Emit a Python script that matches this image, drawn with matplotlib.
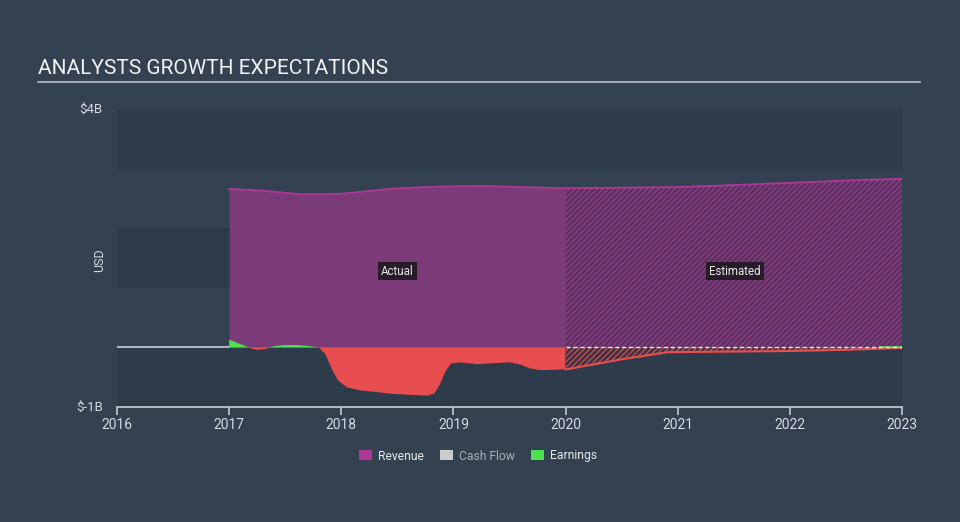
import matplotlib
matplotlib.use("Agg")
import matplotlib.pyplot as plt
from matplotlib.patches import Patch
import numpy as np

plt.rcParams['font.family'] = ['Roboto', 'DejaVu Sans']
plt.rcParams['hatch.linewidth'] = 0.9

# ---- data (billions USD) ----
rev_actual_x = [2017.0, 2017.3, 2017.63, 2017.8, 2018.02, 2018.23, 2018.5, 2018.91, 2019.24, 2019.6, 2020.0]
rev_actual_y = [2.66, 2.63, 2.57, 2.57, 2.58, 2.62, 2.67, 2.70, 2.71, 2.69, 2.67]
rev_est_x = [2020.0, 2020.5, 2021.0, 2021.32, 2021.7, 2022.0, 2022.5, 2023.0]
rev_est_y = [2.67, 2.68, 2.69, 2.71, 2.74, 2.76, 2.80, 2.83]

earn_actual_x = [2017.0, 2017.12, 2017.2, 2017.25, 2017.32, 2017.4, 2017.5, 2017.6, 2017.72, 2017.8,
                 2017.86, 2017.92, 2017.97, 2018.05, 2018.17, 2018.46, 2018.77, 2018.83,
                 2018.88, 2018.93, 2018.98, 2019.05, 2019.21, 2019.5, 2019.6, 2019.68, 2019.77, 2020.0]
earn_actual_y = [0.13, 0.04, -0.02, -0.04, -0.03, 0.02, 0.04, 0.04, 0.02, 0.0,
                 -0.12, -0.38, -0.55, -0.67, -0.72, -0.78, -0.81, -0.77,
                 -0.62, -0.4, -0.27, -0.25, -0.28, -0.25, -0.29, -0.35, -0.38, -0.37]
earn_est_x = [2020.0, 2020.5, 2020.91, 2021.5, 2022.0, 2022.5, 2023.0]
earn_est_y = [-0.37, -0.2, -0.08, -0.07, -0.06, -0.04, -0.01]

cash_est_x = [2020.0, 2023.0]
cash_est_y = [0.0, 0.0]

x_ticks = [2016, 2017, 2018, 2019, 2020, 2021, 2022, 2023]
y_tick_vals = [4, -1]
y_tick_labels = ["$4B", "$-1B"]
legend_labels = ["Revenue", "Cash Flow", "Earnings"]

# ---- style ----
BG = '#344150'
BAND = '#2e3b4a'
REV_FILL = '#7b3a78'
REV_LINE = '#b0379a'
RED = '#e84e50'
GREEN = '#4fe04f'
TXT = '#d6dade'

fig = plt.figure(figsize=(9.6, 5.22), dpi=100, facecolor=BG)
ax = fig.add_axes([117/960, (522-407)/522, (902-117)/960, (407-109)/522])
ax.set_facecolor(BG)
ax.set_xlim(2016, 2023)
ax.set_ylim(-1, 4)

# background bands
for lo, hi in [(3, 4), (1, 2), (-1, 0)]:
    ax.axhspan(lo, hi, color=BAND, lw=0, zorder=0)

# zero line
ax.axhline(0, color='#c9cdd2', lw=1.2, zorder=1)

# revenue
ax.fill_between(rev_actual_x, 0, rev_actual_y, color=REV_FILL, lw=0, zorder=2)
ax.fill_between(rev_est_x, 0, rev_est_y, facecolor=REV_FILL, edgecolor='#4f2a55',
                hatch='//////', lw=0, zorder=2)
ax.plot(rev_actual_x + rev_est_x[1:], rev_actual_y + rev_est_y[1:], color=REV_LINE, lw=1.3, zorder=4)

# earnings actual
ex = np.array(earn_actual_x); ey = np.array(earn_actual_y)
ax.fill_between(ex, 0, ey, where=ey >= 0, interpolate=True, color=GREEN, lw=0, zorder=3)
ax.fill_between(ex, 0, ey, where=ey <= 0, interpolate=True, color=RED, lw=0, zorder=3)
# earnings estimated
ax.fill_between(earn_est_x, 0, earn_est_y, facecolor='#3a3440', edgecolor=RED,
                hatch='//////', lw=0, zorder=3, alpha=0.9)
ax.plot(earn_est_x, earn_est_y, color=RED, lw=1.5, zorder=4)
ax.plot([2022.8, 2023.0], [0.0, 0.0], color=GREEN, lw=1.2, zorder=4)

# cash flow
ax.plot(cash_est_x, cash_est_y, color='#e8e8e8', lw=1.0, ls=(0, (3, 2)), zorder=5)

# labels
bbox = dict(boxstyle='square,pad=0.25', facecolor='#261c2a', edgecolor='none')
ax.text(2018.5, 1.28, "Actual", color='#e6e6e6', fontsize=8.3, ha='center', va='center', bbox=bbox, zorder=6)
ax.text(2021.51, 1.28, "Estimated", color='#e6e6e6', fontsize=8.3, ha='center', va='center', bbox=bbox, zorder=6)

# axes
for s in ['top', 'right', 'left']:
    ax.spines[s].set_visible(False)
ax.spines['bottom'].set_color('#c9cdd2')
ax.spines['bottom'].set_linewidth(1.2)
ax.set_xticks(x_ticks)
ax.set_xticklabels([str(t) for t in x_ticks])
ax.tick_params(axis='x', colors='#c9cdd2', length=6, width=1.2, labelsize=10, labelcolor=TXT, pad=2)
ax.set_yticks([])
for v, lab in zip(y_tick_vals, y_tick_labels):
    ax.text(-0.018, v, lab, transform=ax.get_yaxis_transform(), ha='right', va='center',
            color=TXT, fontsize=9.5)
fig.text(100/960, 1 - 260/522, "USD", rotation=90, ha='center', va='center', color=TXT, fontsize=9)

# title
fig.text(38/960, 1 - 69/522, "ANALYSTS GROWTH EXPECTATIONS", color='#f0f2f4', fontsize=15,
         ha='left', va='center')
fig.add_artist(plt.Line2D([38/960, 920/960], [1 - 81.5/522, 1 - 81.5/522], color='#b9bec5', lw=1.2))

# legend
handles = [Patch(facecolor=REV_LINE, edgecolor='none'),
           Patch(facecolor='#cccccc', edgecolor='none'),
           Patch(facecolor=GREEN, edgecolor='none')]
leg = fig.legend(handles, legend_labels, loc='center', bbox_to_anchor=(478/960, 1 - 456/522), ncol=3,
                 frameon=False, fontsize=8.7, handlelength=1.1, handleheight=0.9,
                 columnspacing=1.3, handletextpad=0.5)
for t, c in zip(leg.get_texts(), ['#e8e8e8', '#a9aeb4', '#e8e8e8']):
    t.set_color(c)

fig.savefig("out.png", dpi=100, facecolor=BG)
